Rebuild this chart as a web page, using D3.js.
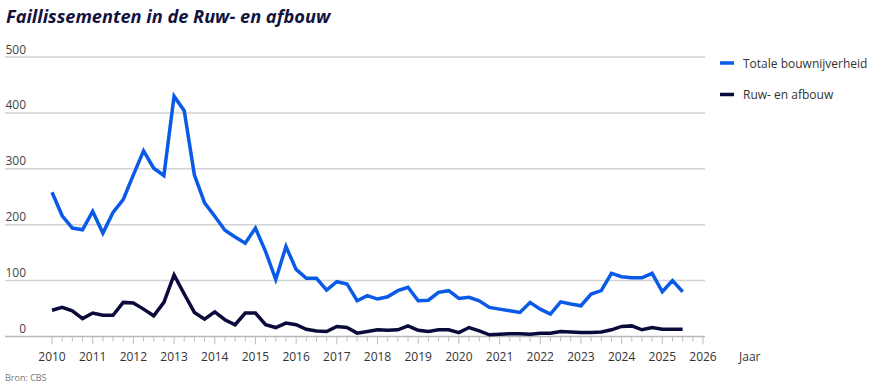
<!DOCTYPE html>
<html>
<head>
<meta charset="utf-8">
<script src="https://cdn.jsdelivr.net/npm/d3@7"></script>
<style>
  html, body { margin: 0; padding: 0; background: #fff; }
  svg { display: block; }
</style>
</head>
<body>
<svg id="chart" width="875" height="388"></svg>
<script>
// ---- Data (quarterly, 2010 Q1 – 2025 Q3) ----
const startYear = 2010;
const totaleBouwnijverheid = [
  258, 216, 194, 191, 224, 185, 222, 245, 289, 332, 301, 288,
  430, 404, 289, 239, 215, 190, 178, 167, 194, 152, 102, 161,
  120, 104, 104, 83, 98, 94, 64, 73, 67, 71, 82, 88,
  64, 65, 79, 82, 68, 70, 64, 52, 49, 46, 43, 61,
  49, 40, 62, 58, 55, 76, 82, 113, 107, 105, 105, 113,
  80, 100, 80
];
const ruwEnAfbouw = [
  47, 52, 46, 32, 42, 38, 38, 61, 60, 49, 37, 61,
  110, 76, 43, 31, 44, 30, 21, 42, 42, 21, 16, 24,
  21, 13, 10, 9, 18, 16, 6, 9, 12, 11, 12, 19,
  11, 9, 12, 12, 7, 16, 10, 3, 4, 5, 5, 4,
  6, 6, 9, 8, 7, 7, 8, 12, 18, 19, 12, 16,
  13, 13, 13
];
const seriesNames = ["Totale bouwnijverheid", "Ruw- en afbouw"];
const seriesColors = ["#0a5ae8", "#0b0b3b"];
const yTicks = [0, 100, 200, 300, 400, 500];
const xTickYears = d3.range(2010, 2027);
const titleText = "Faillissementen in de Ruw- en afbouw";
const xAxisTitle = "Jaar";
const sourceText = "Bron: CBS";

// ---- Scales ----
const svg = d3.select("#chart");
const x = d3.scaleLinear().domain([2010, 2026]).range([52, 703]);
const y = d3.scaleLinear().domain([0, 500]).range([336.5, 57]);
const fontFam = "'Open Sans', 'Noto Sans', sans-serif";

// Title
svg.append("text")
  .attr("x", 6).attr("y", 23)
  .attr("font-family", fontFam)
  .attr("font-size", 18.2)
  .attr("font-weight", 700)
  .attr("font-style", "italic")
  .attr("fill", "#13133f")
  .text(titleText);

// Gridlines
svg.append("g").selectAll("line")
  .data(yTicks.filter(d => d > 0))
  .join("line")
  .attr("x1", 5).attr("x2", 705)
  .attr("y1", d => y(d)).attr("y2", d => y(d))
  .attr("stroke", "#d2d2d2").attr("stroke-width", 1.5);

// Y labels
svg.append("g").selectAll("text")
  .data(yTicks)
  .join("text")
  .attr("x", 26).attr("y", d => y(d) - 3.5)
  .attr("text-anchor", "end")
  .attr("font-family", fontFam)
  .attr("font-size", 12)
  .attr("fill", "#444")
  .text(d => d);

// X axis baseline + ticks
const xAxis = svg.append("g");
xAxis.append("line")
  .attr("x1", 5).attr("x2", 705)
  .attr("y1", y(0)).attr("y2", y(0))
  .attr("stroke", "#b8b8b8").attr("stroke-width", 1.5);
const quarterTicks = d3.range(0, 16 * 4 + 1).map(i => 2010 + i / 4);
xAxis.selectAll("line.tick")
  .data(quarterTicks)
  .join("line")
  .attr("class", "tick")
  .attr("x1", d => x(d)).attr("x2", d => x(d))
  .attr("y1", y(0))
  .attr("y2", (d, i) => y(0) + (i % 4 === 0 ? 8 : 5))
  .attr("stroke", "#bdbdbd").attr("stroke-width", 1);
xAxis.selectAll("text.year")
  .data(xTickYears)
  .join("text")
  .attr("class", "year")
  .attr("x", d => x(d)).attr("y", 361)
  .attr("text-anchor", "middle")
  .attr("font-family", fontFam)
  .attr("font-size", 12)
  .attr("fill", "#333")
  .text(d => d);
svg.append("text")
  .attr("x", 739).attr("y", 361)
  .attr("font-family", fontFam)
  .attr("font-size", 12)
  .attr("fill", "#333")
  .text(xAxisTitle);

// Lines
const allSeries = [totaleBouwnijverheid, ruwEnAfbouw];
const line = d3.line()
  .x((d, i) => x(startYear + i / 4))
  .y(d => y(d));
svg.append("g").selectAll("path")
  .data(allSeries)
  .join("path")
  .attr("d", d => line(d))
  .attr("fill", "none")
  .attr("stroke", (d, i) => seriesColors[i])
  .attr("stroke-width", 3.5)
  .attr("stroke-linejoin", "miter")
  .attr("stroke-linecap", "butt");

// Legend
const legend = svg.append("g").selectAll("g")
  .data(seriesNames)
  .join("g")
  .attr("transform", (d, i) => `translate(720, ${63 + i * 31.5})`);
legend.append("line")
  .attr("x1", 0).attr("x2", 14)
  .attr("stroke", (d, i) => seriesColors[i])
  .attr("stroke-width", 3.5);
legend.append("text")
  .attr("x", 23).attr("y", 4.5)
  .attr("font-family", fontFam)
  .attr("font-size", 12)
  .attr("fill", "#333")
  .text(d => d);

// Source
svg.append("text")
  .attr("x", 5).attr("y", 381)
  .attr("font-family", fontFam)
  .attr("font-size", 9)
  .attr("fill", "#777")
  .text(sourceText);
</script>
</body>
</html>
